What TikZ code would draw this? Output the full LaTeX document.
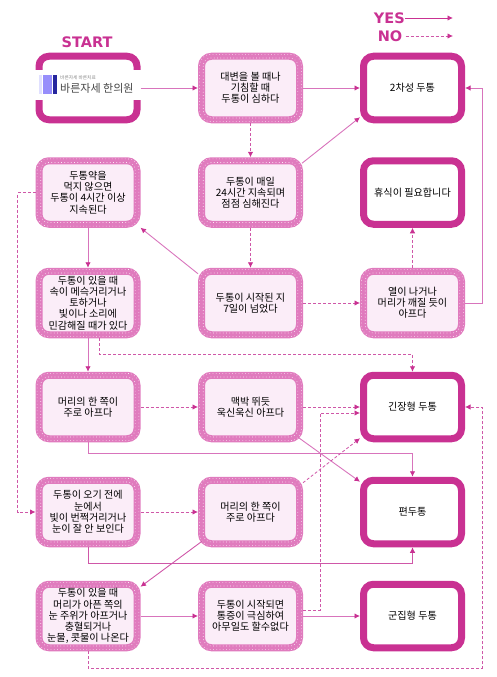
\documentclass[tikz,border=0pt]{standalone}
\usepackage{fontspec}
\setmainfont{Noto Sans CJK KR}
\newfontfamily\legendfont{DejaVu Sans}
\usetikzlibrary{calc,arrows.meta}
\definecolor{magdark}{HTML}{C93192}
\definecolor{magmid}{HTML}{E07BBE}
\definecolor{magpale}{HTML}{FBEDF8}
\definecolor{magline}{HTML}{D874BC}
\definecolor{magdash}{HTML}{CF57A8}
\tikzset{
  boxtext/.style={align=center,font=\fontsize{10.1}{11.2}\selectfont,text=black,inner sep=0pt},
  ringbox/.style={boxtext,rounded corners=10pt,draw=magmid,line width=7pt,fill=magpale,minimum width=98pt,minimum height=63.5pt},
  endbox/.style={boxtext,rounded corners=10pt,draw=magdark,line width=7pt,fill=white,minimum width=98pt,minimum height=63.5pt},
  dots/.style={draw=white!85!magmid,line width=.65pt,dash pattern=on .65pt off 2.6pt,rounded corners=11pt},
  yes/.style={draw=magline,line width=.9pt,-{Latex[length=5.5pt,width=5.5pt,color=magdark]}},
  no/.style={draw=magdash,line width=.8pt,dash pattern=on 3pt off 2pt,-{Latex[length=5.5pt,width=5.5pt,color=magdark]}},
  legend/.style={font=\legendfont\bfseries\fontsize{14.5}{14.5}\selectfont,text=magdark,inner sep=0pt},
}
\newcommand{\ringat}[4]{%
  \node[ringbox] (#1) at (#2,#3) {#4};
  \draw[dots] ($(#1.north west)+(1.6pt,-1.6pt)$) rectangle ($(#1.south east)+(-1.6pt,1.6pt)$);
  \draw[dots,rounded corners=8pt] ($(#1.north west)+(5.2pt,-5.2pt)$) rectangle ($(#1.south east)+(-5.2pt,5.2pt)$);
}
\begin{document}
\begin{tikzpicture}[x=1pt,y=-1pt]
\useasboundingbox (0,0) rectangle (496,677);
\node[endbox] (start) at (88,88) {};
\fill[white] (35,70) rectangle (141,100);
\fill[blue!12!white] (39,75) rectangle (41.5,94);
\fill[blue!40!magpale] (43,75) rectangle (52,94);
\fill[blue!55!black!85] (52.5,75) rectangle (56.5,94);
\node[inner sep=0pt,anchor=west,text=black!45,font=\fontsize{4.7}{5}\selectfont] (logosub) at (60,77.5) {바른자세 바른치료};
\node[inner sep=0pt,anchor=west,text=black!72,font=\fontsize{11}{11}\selectfont] (logo) at (60,88) {바른자세 한의원};
\ringat{b12}{250.5}{88}{대변을 볼 때나\\기침할 때\\두통이 심하다}
\node[endbox] (r1) at (412.5,88) {2차성 두통};
\ringat{b21}{88}{192.5}{두통약을\\먹지 않으면\\두통이 4시간 이상\\지속된다}
\ringat{b22}{250.5}{192.5}{두통이 매일\\24시간 지속되며\\점점 심해진다}
\node[endbox] (r2) at (412.5,192.5) {휴식이 필요합니다};
\ringat{b31}{88}{303}{두통이 있을 때\\속이 메슥거리거나\\토하거나\\빛이나 소리에\\민감해질 때가 있다}
\ringat{b32}{250.5}{303}{두통이 시작된 지\\7일이 넘었다}
\ringat{b33}{412.5}{303}{열이 나거나\\머리가 깨질 듯이\\아프다}
\ringat{b41}{88}{407}{머리의 한 쪽이\\주로 아프다}
\ringat{b42}{250.5}{407}{맥박 뛰듯\\욱신욱신 아프다}
\node[endbox] (r4) at (412.5,407) {긴장형 두통};
\ringat{b51}{88}{512}{두통이 오기 전에\\눈에서\\빛이 번쩍거리거나\\눈이 잘 안 보인다}
\ringat{b52}{250.5}{512}{머리의 한 쪽이\\주로 아프다}
\node[endbox] (r5) at (412.5,512) {편두통};
\ringat{b61}{88}{616}{두통이 있을 때\\머리가 아픈 쪽의\\눈 주위가 아프거나\\충혈되거나\\눈물, 콧물이 나온다}
\ringat{b62}{250.5}{616}{두통이 시작되면\\통증이 극심하여\\아무일도 할수없다}
\node[endbox] (r6) at (412.5,616) {군집형 두통};
% legend
\node[legend] (st) at (87,42) {START};
\node[legend,anchor=east] (ly) at (405,18) {YES};
\node[legend,anchor=east] (ln) at (402.5,36) {NO};
\coordinate (ye) at (453,18);
\coordinate (ne) at (453,36);
\draw[yes,draw=magdark] (ly.east) -- (ye);
\draw[no,shorten <=3pt] (ln.east) -- (ne);
% connectors
\draw[yes] (start.east) -- (b12.west);
\draw[yes] (b12.east) -- (r1.west);
\draw[no] (b12.south) -- (b22.north);
\draw[yes] ($(b22.north east)+(-1,6)$) -- ($(r1.south west)+(0,-6)$);
\draw[no] (b22.south) -- (b32.north);
\draw[yes] ($(b32.north west)+(0,6)$) -- (b21.south east);
\draw[yes] (b21.south) -- (b31.north);
\draw[yes] (b31.south) -- (b41.north);
\draw[no] (b21.west) -- ++(-18,0) |- (b51.west);
\draw[no] (b32.east) -- (b33.west);
\draw[no] (b33.north) -- (r2.south);
\draw[yes] (b33.east) -- ++(17,0) |- (r1.east);
\draw[no] ($(b31.south)+(11,0)$) -- ++(0,16) -| (r4.north);
\draw[no] (b41.east) -- (b42.west);
\draw[no] (b42.east) -- (r4.west);
\draw[yes] ($(b42.south east)+(-5,-5)$) -- ($(r5.north west)+(0,5)$);
\draw[yes] (b41.south) -- ++(0,11) -| (r5.north);
\draw[no] (b51.east) -- (b52.west);
\draw[no] ($(b52.north east)+(0,6)$) -- ($(r4.south west)+(0,-4)$);
\draw[yes,draw=magdash] (b51.south) -- ++(0,16) -| (r5.south);
\draw[yes,draw=magdash] ($(b52.south west)+(4,-6)$) -- ($(b61.north east)+(0,6)$);
\draw[yes] (b61.east) -- (b62.west);
\draw[yes] (b62.east) -- (r6.west);
\draw[no] ($(b62.east)+(0,-6)$) -- ++(17,0) |- ($(r4.west)+(0,6)$);
\draw[no] (b61.south) -- ++(0,17) -| ($(r4.east)+(17,0)$) -- (r4.east);
\end{tikzpicture}
\end{document}
